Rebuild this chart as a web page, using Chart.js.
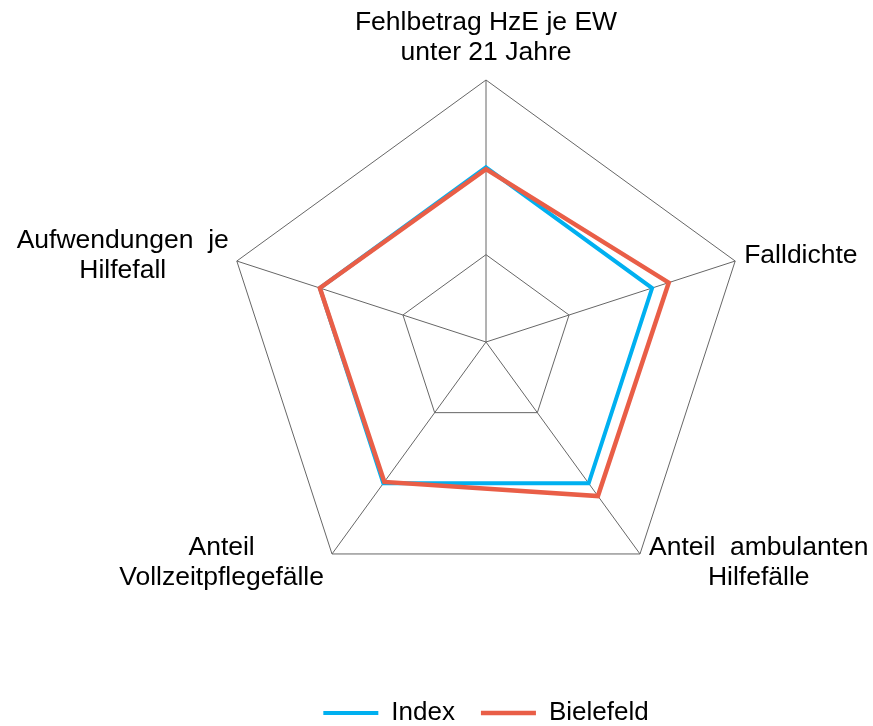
<!DOCTYPE html>
<html>
<head>
<meta charset="utf-8">
<script src="https://cdn.jsdelivr.net/npm/chart.js@4"></script>
<style>
  html, body { margin: 0; padding: 0; background: #fff; }
  #wrap { width: 873px; height: 726px; }
</style>
</head>
<body>
<div id="wrap"><canvas id="radar"></canvas></div>
<script>
const axisLabels = [
    ['Fehlbetrag HzE je EW', 'unter 21 Jahre'],
    'Falldichte',
    ['Anteil  ambulanten', 'Hilfefälle'],
    ['Anteil', 'Vollzeitpflegefälle'],
    ['Aufwendungen  je', 'Hilfefall']
];
const indexValues = [100, 100, 100, 100, 100];
const bielefeldValues = [99, 110, 109, 99, 100];
const ringTicks = [0, 50, 100, 150];

const blue = 'rgb(0, 176, 240)';
const red = 'rgb(233, 94, 71)';
const labelFont = '26.5px "Liberation Sans", Arial, sans-serif';

// axis labels as centred text blocks next to each spoke end (like the office chart)
const blockLabels = {
    id: 'blockLabels',
    afterDraw(chart) {
        const scale = chart.scales.r;
        const ctx = chart.ctx;
        const lineH = 30;
        ctx.save();
        ctx.font = labelFont;
        ctx.fillStyle = '#000';
        ctx.textAlign = 'center';
        ctx.textBaseline = 'middle';
        axisLabels.forEach((label, i) => {
            const lines = [].concat(label);
            const p = scale.getPointPosition(i, scale.drawingArea);
            const blockW = Math.max(...lines.map(l => ctx.measureText(l).width));
            const dx = p.x - scale.xCenter;
            let cx, cy;
            if (Math.abs(dx) < 1) {
                cx = p.x;
                cy = p.y - 27 - (lines.length - 1) * lineH / 2;
            } else {
                cx = dx > 0 ? p.x + 9 + blockW / 2 : p.x - 8 - blockW / 2;
                cy = p.y + (p.y > scale.yCenter ? 9 : -5);
            }
            lines.forEach((l, k) => {
                ctx.fillText(l, cx, cy + (k - (lines.length - 1) / 2) * lineH);
            });
        });
        ctx.restore();
    }
};

new Chart(document.getElementById('radar'), {
    type: 'radar',
    data: {
        labels: axisLabels,
        datasets: [{
            label: 'Index',
            data: indexValues,
            borderColor: blue,
            backgroundColor: blue,
            borderWidth: 4,
            fill: false,
            pointRadius: 0,
            order: 1
        }, {
            label: 'Bielefeld',
            data: bielefeldValues,
            borderColor: red,
            backgroundColor: red,
            borderWidth: 4.5,
            fill: false,
            pointRadius: 0,
            order: 0
        }]
    },
    options: {
        responsive: true,
        maintainAspectRatio: false,
        animation: false,
        layout: {
            padding: { top: 10, left: 224, right: 125, bottom: -10 }
        },
        scales: {
            r: {
                min: ringTicks[0],
                max: ringTicks[ringTicks.length - 1],
                ticks: { display: false, stepSize: 50 },
                grid: { color: '#666', lineWidth: 1 },
                angleLines: { color: '#666', lineWidth: 1 },
                pointLabels: { display: false }
            }
        },
        plugins: {
            tooltip: { enabled: false },
            legend: {
                position: 'bottom',
                labels: {
                    color: '#000',
                    usePointStyle: true,
                    pointStyle: 'line',
                    pointStyleWidth: 55,
                    padding: 26,
                    font: { family: 'Liberation Sans, Arial, sans-serif', size: 26 },
                    sort: (a, b) => a.datasetIndex - b.datasetIndex
                }
            }
        }
    },
    plugins: [blockLabels]
});
</script>
</body>
</html>
